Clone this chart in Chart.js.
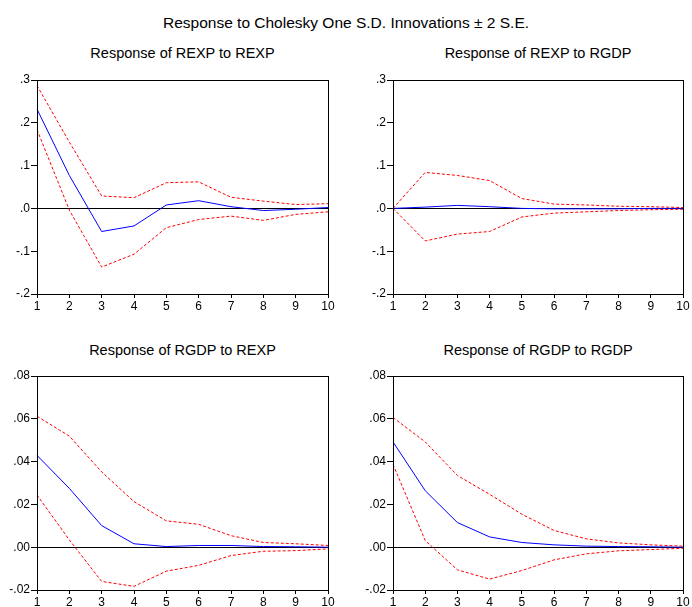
<!DOCTYPE html>
<html>
<head>
<meta charset="utf-8">
<script src="https://cdn.jsdelivr.net/npm/chart.js@4/dist/chart.umd.min.js"></script>
<style>
  body { margin: 0; background: #fff; font-family: "Liberation Sans", Arial, sans-serif; }
  #wrap { position: relative; width: 692px; height: 607px; overflow: hidden; }
  .t { position: absolute; text-align: center; color: #000; white-space: nowrap; }
  canvas { position: absolute; }
</style>
</head>
<body>
<div id="wrap">
  <div class="t" style="left:0;width:692px;top:14px;font-size:15.5px;">Response to Cholesky One S.D. Innovations ± 2 S.E.</div>
  <div class="t" style="left:37px;width:291px;top:45px;font-size:14.5px;">Response of REXP to REXP</div>
  <div class="t" style="left:393px;width:290px;top:45px;font-size:14.5px;">Response of REXP to RGDP</div>
  <div class="t" style="left:37px;width:291px;top:342px;font-size:14.5px;">Response of RGDP to REXP</div>
  <div class="t" style="left:393px;width:290px;top:342px;font-size:14.5px;">Response of RGDP to RGDP</div>
  <canvas id="c1" style="left:0;top:40px;" width="340" height="280"></canvas>
  <canvas id="c2" style="left:346px;top:40px;" width="346" height="280"></canvas>
  <canvas id="c3" style="left:0;top:336px;" width="340" height="271"></canvas>
  <canvas id="c4" style="left:346px;top:336px;" width="346" height="271"></canvas>
</div>
<script>
const periods = ["1","2","3","4","5","6","7","8","9","10"];

// Response of REXP to REXP
const rexpRexp    = [0.232, 0.077, -0.054, -0.041, 0.008, 0.018, 0.004, -0.005, -0.002, 0.002];
const rexpRexpHi  = [0.287, 0.155, 0.029, 0.025, 0.060, 0.062, 0.026, 0.017, 0.009, 0.011];
const rexpRexpLo  = [0.184, -0.004, -0.137, -0.107, -0.045, -0.026, -0.018, -0.028, -0.014, -0.008];

// Response of REXP to RGDP
const rexpRgdp    = [0.000, 0.003, 0.007, 0.004, 0.000, -0.001, -0.001, -0.001, 0.000, 0.000];
const rexpRgdpHi  = [0.000, 0.084, 0.077, 0.065, 0.023, 0.010, 0.008, 0.005, 0.004, 0.002];
const rexpRgdpLo  = [0.000, -0.076, -0.060, -0.054, -0.020, -0.011, -0.008, -0.005, -0.003, -0.002];

// Response of RGDP to REXP
const rgdpRexp    = [0.0429, 0.0275, 0.0101, 0.0016, 0.0003, 0.0008, 0.0008, 0.0003, 0.0002, 0.0000];
const rgdpRexpHi  = [0.0612, 0.0519, 0.0352, 0.0213, 0.0123, 0.0107, 0.0054, 0.0022, 0.0016, 0.0008];
const rgdpRexpLo  = [0.0244, 0.0034, -0.0160, -0.0183, -0.0112, -0.0085, -0.0039, -0.0019, -0.0016, -0.0008];

// Response of RGDP to RGDP
const rgdpRgdp    = [0.0492, 0.0264, 0.0115, 0.0048, 0.0022, 0.0011, 0.0005, 0.0003, 0.0002, 0.0000];
const rgdpRgdpHi  = [0.0606, 0.0492, 0.0335, 0.0247, 0.0154, 0.0078, 0.0039, 0.0020, 0.0011, 0.0005];
const rgdpRgdpLo  = [0.0387, 0.0031, -0.0106, -0.0149, -0.0109, -0.0059, -0.0031, -0.0017, -0.0011, -0.0005];

const frame = {
  id: "frame",
  afterDraw(chart) {
    const a = chart.chartArea, ctx = chart.ctx;
    ctx.save();
    ctx.strokeStyle = "#000";
    ctx.lineWidth = 1;
    ctx.strokeRect(Math.round(a.left) + 0.5, Math.round(a.top) + 0.5,
                   Math.round(a.right - a.left), Math.round(a.bottom - a.top));
    ctx.restore();
  }
};

function fmt(v, d) {
  if (Math.abs(v) < 1e-9) v = 0;
  return v.toFixed(d).replace("-0.", "-.").replace(/^0\./, ".");
}

function makeChart(id, mid, hi, lo, yMin, yMax, step, dec, yWidth, padRight, xHeight) {
  const line = (data, color, dash) => ({
    data, borderColor: color, borderWidth: 1, borderDash: dash,
    pointRadius: 0, tension: 0, fill: false
  });
  new Chart(document.getElementById(id), {
    type: "line",
    data: {
      labels: periods,
      datasets: [
        line(hi, "#ff0000", [3, 2]),
        line(lo, "#ff0000", [3, 2]),
        line(mid, "#0000ff", [])
      ]
    },
    options: {
      responsive: false,
      animation: false,
      layout: { padding: { top: 40, right: padRight, bottom: 0, left: 0 } },
      plugins: { legend: { display: false }, tooltip: { enabled: false } },
      scales: {
        x: {
          offset: false,
          grid: { drawOnChartArea: false, tickLength: 4, tickColor: "#000" },
          border: { color: "#000" },
          ticks: { color: "#000", font: { family: "Liberation Sans", size: 12 }, padding: 1, maxRotation: 0, autoSkip: false },
          afterFit: s => { s.height = xHeight; }
        },
        y: {
          min: yMin, max: yMax,
          grid: {
            color: c => Math.abs(c.tick.value) < 1e-9 ? "#000" : "rgba(0,0,0,0)",
            tickColor: "#000", tickLength: 6
          },
          border: { color: "#000" },
          ticks: {
            stepSize: step, color: "#000", padding: 1,
            font: { family: "Liberation Sans", size: 12 },
            callback: v => fmt(v, dec)
          },
          afterFit: s => { s.width = yWidth; }
        }
      }
    },
    plugins: [frame]
  });
}

makeChart("c1", rexpRexp, rexpRexpHi, rexpRexpLo, -0.2, 0.3, 0.1, 1, 37, 12, 26);
makeChart("c2", rexpRgdp, rexpRgdpHi, rexpRgdpLo, -0.2, 0.3, 0.1, 1, 47, 9, 26);
makeChart("c3", rgdpRexp, rgdpRexpHi, rgdpRexpLo, -0.02, 0.08, 0.02, 2, 37, 12, 17);
makeChart("c4", rgdpRgdp, rgdpRgdpHi, rgdpRgdpLo, -0.02, 0.08, 0.02, 2, 47, 9, 17);
</script>
</body>
</html>
